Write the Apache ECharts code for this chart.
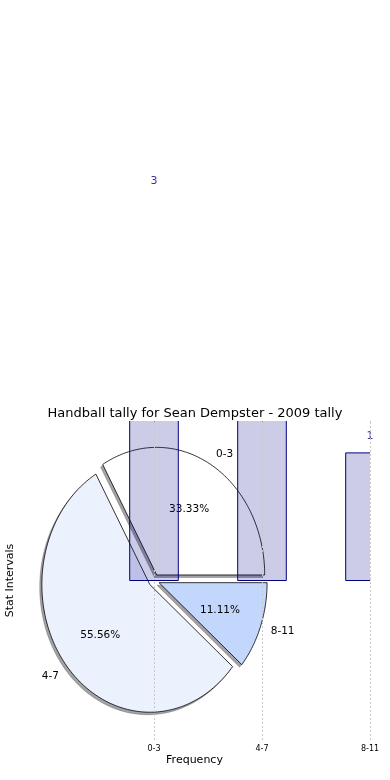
<!DOCTYPE html>
<html><head><meta charset="utf-8">
<script src="https://cdn.jsdelivr.net/npm/echarts@6/dist/echarts.min.js"></script>
<style>html,body{margin:0;padding:0;background:#fff}#c{width:390px;height:780px}</style>
</head><body><div id="c"></div>
<script>
const categories = ['0-3', '4-7', '8-11'];
const counts = [3, 5, 1];
const positions = [0, 1, 2];
const sliceColors = ['#ffffff', '#ebf2fe', '#c3d7fd'];
const titleText = 'Handball tally for Sean Dempster - 2009 tally';

const FONT = 'DejaVu Sans';
const EXPLODE = 0.05;
const BAR_W = 0.45;
const total = counts.reduce((a, b) => a + b, 0);

function sliceAngles(i) {
  let start = 0;
  for (let k = 0; k < i; k++) start += counts[k] / total * 360;
  const end = start + counts[i] / total * 360;
  return [start, end];
}
function wedge(api, i, dx, dy) {
  const [start, end] = sliceAngles(i);
  const mid = (start + end) / 2 * Math.PI / 180;
  const cx = EXPLODE * Math.cos(mid) + dx, cy = EXPLODE * Math.sin(mid) + dy;
  const pts = [api.coord([cx, cy])];
  const n = Math.max(2, Math.ceil(end - start));
  for (let s = 0; s <= n; s++) {
    const a = (start + (end - start) * s / n) * Math.PI / 180;
    pts.push(api.coord([cx + Math.cos(a), cy + Math.sin(a)]));
  }
  return { pts, cx, cy, mid };
}

const pieData = counts.map((v, i) => [i, v]);
const barData = positions.map((p, i) => [p, counts[i]]);

const chart = echarts.init(document.getElementById('c'), null, { renderer: 'canvas' });
chart.setOption({
  animation: false,
  backgroundColor: '#fff',
  textStyle: { fontFamily: FONT },
  title: {
    text: titleText, left: 'center', top: 402,
    textStyle: { fontFamily: FONT, fontSize: 13, fontWeight: 'normal', color: '#000' }
  },
  grid: { left: 19, right: 20, top: 421, bottom: 40, containLabel: false, outerBoundsMode: 'none' },
  xAxis: [{
    type: 'value', min: -1.25, max: 2, position: 'bottom',
    axisLine: { show: false }, splitLine: { show: false },
    axisTick: { show: true, inside: true, length: 3, customValues: positions, lineStyle: { color: '#bbb' } },
    axisLabel: { customValues: positions, formatter: v => categories[Math.round(v)] || '', fontSize: 8, color: '#000', margin: 5, fontFamily: FONT },
    name: 'Frequency', nameLocation: 'middle', nameGap: 15,
    nameTextStyle: { fontSize: 11, color: '#000', fontFamily: FONT }
  }, {
    type: 'value', min: -1.25, max: 2, position: 'top',
    axisLine: { show: false }, splitLine: { show: false },
    axisTick: { show: true, inside: true, length: 3, customValues: positions, lineStyle: { color: '#bbb' } },
    axisLabel: { show: false }
  }],
  yAxis: {
    type: 'value', min: -1.25, max: 1.25,
    axisLine: { show: false }, axisTick: { show: false }, axisLabel: { show: false }, splitLine: { show: false },
    name: 'Stat Intervals', nameLocation: 'middle', nameRotate: 90, nameGap: 3,
    nameTextStyle: { fontSize: 11, color: '#000', fontFamily: FONT }
  },
  series: [{
    type: 'custom', name: 'shadow', z: 1, data: pieData,
    renderItem: (params, api) => {
      const i = params.dataIndex;
      const w = wedge(api, i, -0.02, -0.02);
      return { type: 'polygon', shape: { points: w.pts }, style: { fill: 'rgba(70,70,80,0.5)', stroke: 'rgba(0,0,0,0.25)', lineWidth: 0.8 } };
    }
  }, {
    type: 'custom', name: 'pie', z: 2, data: pieData,
    renderItem: (params, api) => {
      const i = params.dataIndex;
      const w = wedge(api, i, 0, 0);
      const lab = api.coord([w.cx + 1.1 * Math.cos(w.mid), w.cy + 1.1 * Math.sin(w.mid)]);
      const pct = api.coord([w.cx + 0.6 * Math.cos(w.mid), w.cy + 0.6 * Math.sin(w.mid)]);
      return {
        type: 'group', children: [
          { type: 'polygon', shape: { points: w.pts }, style: { fill: sliceColors[i], stroke: '#000', lineWidth: 0.8 } },
          { type: 'text', x: lab[0], y: lab[1] + 1, style: { text: categories[i], fill: '#000', fontSize: 10.5, fontFamily: FONT, align: Math.cos(w.mid) > 0 ? 'left' : 'right', verticalAlign: 'middle' } },
          { type: 'text', x: pct[0], y: pct[1] + 1, style: { text: (api.value(1) / total * 100).toFixed(2) + '%', fill: '#000', fontSize: 10.5, fontFamily: FONT, align: 'center', verticalAlign: 'middle' } }
        ]
      };
    }
  }, {
    type: 'custom', name: 'bars', z: 3, data: barData,
    renderItem: (params, api) => {
      const x = api.value(0), v = api.value(1);
      const p0 = api.coord([x - BAR_W / 2, v]);
      const p1 = api.coord([x + BAR_W / 2, 0]);
      const cs = params.coordSys;
      const L = Math.max(p0[0], cs.x), R = Math.min(p1[0], cs.x + cs.width);
      const T = Math.max(p0[1], cs.y), B = Math.min(p1[1], cs.y + cs.height);
      if (R <= L || B <= T) return null;
      const children = [{ type: 'rect', shape: { x: L, y: T, width: R - L, height: B - T }, style: { fill: 'rgba(0,0,128,0.2)' } }];
      const edge = (a, b) => children.push({ type: 'line', shape: { x1: a[0], y1: a[1], x2: b[0], y2: b[1] }, style: { stroke: '#000080', lineWidth: 1 } });
      if (p0[0] >= cs.x) edge([L, T], [L, B]);
      if (p1[0] <= cs.x + cs.width) edge([R, T], [R, B]);
      if (p0[1] >= cs.y) edge([L, T], [R, T]);
      edge([L, B], [R, B]);
      return { type: 'group', children };
    }
  }, {
    type: 'scatter', name: 'labels', z: 4, clip: false, symbolSize: 0,
    data: barData,
    label: { show: true, position: 'top', distance: 11, color: '#000080', fontSize: 11, fontFamily: FONT, formatter: p => String(p.value[1]) },
    markLine: {
      silent: true, symbol: 'none', label: { show: false },
      lineStyle: { color: '#c8c8c8', type: [2, 2], width: 1 },
      data: positions.map(p => ({ xAxis: p }))
    }
  }]
});
</script>
</body></html>
